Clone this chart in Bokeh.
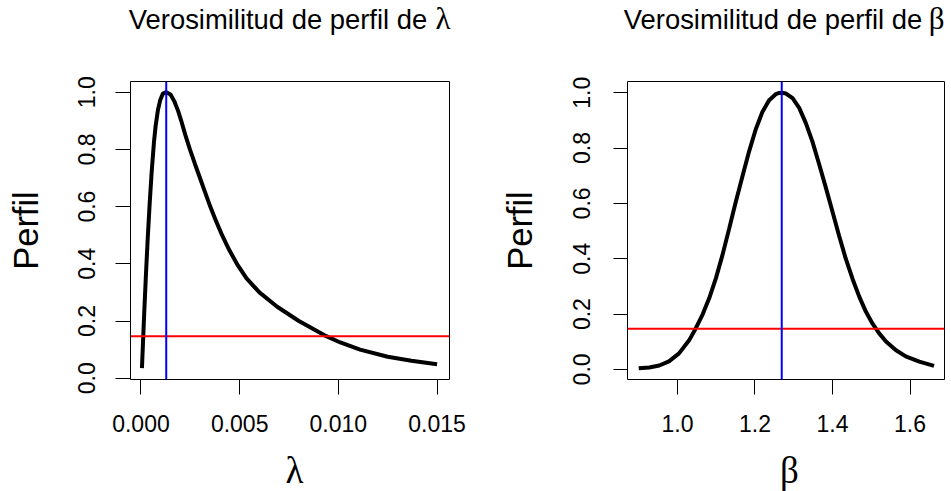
from bokeh.plotting import figure
from bokeh.models import Range1d, FixedTicker, Span
from bokeh.layouts import row, column
from bokeh.core.properties import value
from bokeh.embed import file_html
from bokeh.resources import INLINE

# Profile likelihood of lambda (relative, max = 1)
lam = [0.00005, 0.0001, 0.000167, 0.000252, 0.000336, 0.000437, 0.000539,
       0.000657, 0.000741, 0.00086, 0.000978, 0.00111, 0.00128,
       0.0015, 0.00169, 0.00189, 0.00204, 0.00225, 0.00248, 0.00273,
       0.00299, 0.00325, 0.00351, 0.00380, 0.00411, 0.00446, 0.00486,
       0.00534, 0.00600, 0.00690, 0.00800, 0.00930, 0.01010, 0.01110,
       0.01250, 0.01370, 0.01500]
perfil_lam = [0.035, 0.120, 0.231, 0.362, 0.480, 0.606, 0.718,
              0.824, 0.881, 0.938, 0.973, 0.995, 1.000,
              0.992, 0.968, 0.933, 0.900, 0.850, 0.800, 0.750,
              0.700, 0.650, 0.600, 0.550, 0.500, 0.450, 0.400,
              0.350, 0.300, 0.250, 0.200, 0.150, 0.125, 0.100,
              0.075, 0.061, 0.049]
lam_hat = 0.00128

# Profile likelihood of beta (relative, max = 1)
beta = [0.900, 0.927, 0.953, 0.978, 1.004, 1.030, 1.047, 1.065, 1.082,
        1.099, 1.116, 1.133, 1.150, 1.168, 1.185, 1.202, 1.219, 1.236,
        1.254, 1.262, 1.269, 1.280, 1.297, 1.314, 1.331, 1.348, 1.365,
        1.383, 1.400, 1.417, 1.434, 1.452, 1.469, 1.486, 1.503, 1.520,
        1.538, 1.563, 1.589, 1.624, 1.662]
perfil_beta = [0.004, 0.007, 0.014, 0.029, 0.058, 0.105, 0.148, 0.199, 0.258,
               0.329, 0.413, 0.507, 0.603, 0.700, 0.789, 0.868, 0.930, 0.972,
               0.995, 0.999, 1.000, 0.997, 0.980, 0.945, 0.891, 0.824, 0.744,
               0.656, 0.570, 0.483, 0.401, 0.326, 0.263, 0.209, 0.166, 0.131,
               0.101, 0.070, 0.047, 0.028, 0.013]
beta_hat = 1.269

# 95% cut-off for the relative likelihood
umbral = 0.1465

lam_ticks = [0.0, 0.005, 0.010, 0.015]
lam_tick_labels = ["0.000", "0.005", "0.010", "0.015"]
beta_ticks = [1.0, 1.2, 1.4, 1.6]
beta_tick_labels = ["1.0", "1.2", "1.4", "1.6"]
perfil_ticks = [0.0, 0.2, 0.4, 0.6, 0.8, 1.0]
perfil_tick_labels = ["0.0", "0.2", "0.4", "0.6", "0.8", "1.0"]

title_text = ["Verosimilitud de perfil de", "Verosimilitud de perfil de"]
greek = ["λ", "β"]

SANS = "Liberation Sans"
SERIF = "Liberation Serif"

W, H = 951, 491
HEAD = 44                 # strip with the panel titles
FOOT = 48                 # strip with the x-axis symbols
PANEL_H = H - HEAD - FOOT
FRAME_TOP, FRAME_BOTTOM = 81, 379
SHIFT = 0.36              # text glyphs sit this many em below their anchor


def strip(height):
    s = figure(width=W, height=height, output_backend="svg",
               toolbar_location=None, x_range=Range1d(0, W),
               y_range=Range1d(height, 0), min_border=0,
               x_axis_location=None, y_axis_location=None)
    s.outline_line_color = None
    s.grid.visible = False
    s.background_fill_color = "white"
    s.border_fill_color = "white"
    return s


def strip_text(s, xs, baselines, texts, font, size, align):
    s.text(x=xs, y=[b - SHIFT * size for b in baselines], text=texts,
           text_font=value(font), text_font_size=f"{size}px",
           text_align=align, text_baseline="alphabetic", text_color="black")


def panel(x, y, x_hat, xr, yr, xticks, xlabels, width, bl, br,
          ytick_out, ytick_standoff, ylab_standoff):
    p = figure(width=width, height=PANEL_H, output_backend="svg",
               toolbar_location=None, x_range=Range1d(*xr),
               y_range=Range1d(*yr), min_border_left=bl,
               min_border_right=br, min_border_top=FRAME_TOP - HEAD,
               min_border_bottom=HEAD + PANEL_H - FRAME_BOTTOM)
    p.background_fill_color = "white"
    p.border_fill_color = "white"
    p.outline_line_color = "black"
    p.outline_line_width = 1
    p.grid.visible = False

    for ax in (p.xaxis[0], p.yaxis[0]):
        ax.axis_line_color = None
        ax.major_tick_line_color = "black"
        ax.major_tick_in = 0
        ax.minor_tick_line_color = None
        ax.major_label_text_font = SANS
        ax.major_label_text_font_size = "23px"
        ax.major_label_text_color = "black"

    p.xaxis.ticker = FixedTicker(ticks=xticks)
    p.xaxis.major_label_overrides = dict(zip(xticks, xlabels))
    p.xaxis.major_tick_out = 15
    p.xaxis.major_label_standoff = 20

    p.yaxis.ticker = FixedTicker(ticks=perfil_ticks)
    p.yaxis.major_label_overrides = dict(zip(perfil_ticks, perfil_tick_labels))
    p.yaxis.major_label_orientation = "vertical"
    p.yaxis.major_tick_out = ytick_out
    p.yaxis.major_label_standoff = ytick_standoff
    p.yaxis.axis_label = "Perfil"
    p.yaxis.axis_label_text_font = SANS
    p.yaxis.axis_label_text_font_size = "34.5px"
    p.yaxis.axis_label_text_font_style = "normal"
    p.yaxis.axis_label_text_color = "black"
    p.yaxis.axis_label_standoff = ylab_standoff

    p.line(x, y, line_color="black", line_width=4)

    p.add_layout(Span(location=umbral, dimension="width",
                      line_color="#ff0000", line_width=2))
    p.add_layout(Span(location=x_hat, dimension="height",
                      line_color="#0000ff", line_width=2))
    return p


# panel titles: sans text followed by the Greek symbol in serif
head = strip(HEAD)
strip_text(head, [128.3, 623.3], [29, 29], title_text, SANS, 27.4, "left")
strip_text(head, [435, 928.3], [29, 29], greek, SERIF, 31, "left")

# x-axis symbols under each panel
foot = strip(FOOT)
base = H - FOOT
strip_text(foot, [294, 789], [483 - base, 483 - base], greek, SERIF, 37,
           "center")

p1 = panel(lam, perfil_lam, lam_hat,
           (-0.00053, 0.01563), (-0.0045, 1.0374),
           lam_ticks, lam_tick_labels, 475, 130, 26, 15, 20, 31)

p2 = panel(beta, perfil_beta, beta_hat,
           (0.871, 1.689), (-0.0365, 1.0405),
           beta_ticks, beta_tick_labels, 476, 152, 7, 14, 23, 32)

layout = column(head, row(p1, p2, spacing=0), foot, spacing=0)
open("out.html", "w").write(file_html(layout, INLINE))
